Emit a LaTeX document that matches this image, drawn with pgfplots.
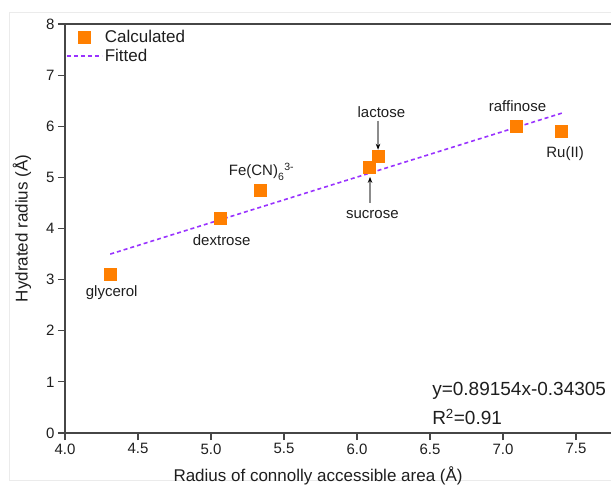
\documentclass[border=0pt]{standalone}
\usepackage{fontspec}
\setmainfont{Liberation Sans}
\usepackage{pgfplots}
\pgfplotsset{compat=1.18}
\usetikzlibrary{arrows.meta}
\definecolor{calc}{RGB}{255,127,0}
\definecolor{fitc}{RGB}{153,51,255}
\definecolor{spine}{RGB}{70,70,70}
\definecolor{txt}{RGB}{30,30,30}
\begin{document}
\begin{tikzpicture}
\useasboundingbox (-65pt,-55pt) rectangle (546pt,433pt);
\draw[black!8] (-56pt,-47pt) rectangle (560pt,421pt);
\begin{axis}[
  scale only axis, width=549pt, height=409pt,
  xmin=4, xmax=7.76, ymin=0, ymax=8,
  xtick={4,4.5,...,7.5}, ytick={0,1,...,8},
  axis line style={spine, line width=1.2pt},
  tick style={spine, line width=1.2pt},
  tick align=outside, tick pos=left, major tick length=7pt,
  /pgf/number format/assume math mode=true,
  xticklabel style={/pgf/number format/.cd, fixed, fixed zerofill, precision=1},
  ticklabel style={font=\fontsize{15}{15}\selectfont, text=txt},
  xlabel={Radius of connolly accessible area (Å)},
  ylabel={Hydrated radius (Å)},
  xlabel style={at={(axis description cs:0.461,-0.105)}, anchor=center, font=\fontsize{17}{17}\selectfont, text=txt},
  ylabel style={at={(axis description cs:-0.0785,0.5)}, anchor=center, font=\fontsize{17}{17}\selectfont, text=txt},
  clip=false,
  legend image code/.code={\draw[mark repeat=2,mark phase=2,#1] plot coordinates {(0pt,0pt) (17.5pt,0pt) (35pt,0pt)};},
  legend style={draw=none, fill=none, at={(axis description cs:0,1)}, anchor=north west,
    inner xsep=1pt, inner ysep=4pt, row sep=1pt, font=\fontsize{17}{17}\selectfont, text=txt},
  legend cell align=left,
]
\addplot[only marks, mark=square*, mark size=6pt, mark options={fill=calc, draw=calc}] coordinates {
  (4.31,3.10) (5.06,4.20) (5.34,4.75) (6.08,5.20) (6.146,5.41) (7.09,6.01) (7.40,5.90)
};
\addlegendentry{Calculated}
\addplot[fitc, line width=1.6pt, dash pattern=on 4pt off 3pt] coordinates {(4.31,3.4995) (7.406,6.2597)};
\addlegendentry{Fitted}
\begin{scope}[every node/.style={font=\fontsize{15}{15}\selectfont, text=txt}]
\node at (axis cs:4.32,2.74) {glycerol};
\node at (axis cs:5.073,3.763) {dextrose};
\node at (axis cs:5.346,5.11) {Fe(CN)\raisebox{-0.35ex}{\textsubscript{6}}\textsuperscript{3-}};
\node at (axis cs:6.167,6.27) {lactose};
\node at (axis cs:6.105,4.27) {sucrose};
\node at (axis cs:7.099,6.385) {raffinose};
\node at (axis cs:7.425,5.47) {Ru(II)};
\end{scope}
\draw[black!45, line width=1.1pt, -{Stealth[black, length=6pt, width=4.5pt]}] (axis cs:6.144,6.11) -- (axis cs:6.144,5.54);
\draw[black!45, line width=1.1pt, -{Stealth[black, length=6pt, width=4.5pt]}] (axis cs:6.089,4.50) -- (axis cs:6.089,5.01);
\node[anchor=west, font=\fontsize{19}{19}\selectfont, text=txt, inner sep=0pt] at (axis cs:6.514,0.82) {y=0.89154x-0.34305};
\node[anchor=west, font=\fontsize{19}{19}\selectfont, text=txt, inner sep=0pt] at (axis cs:6.514,0.31) {R\textsuperscript{2}=0.91};
\end{axis}
\end{tikzpicture}
\end{document}
